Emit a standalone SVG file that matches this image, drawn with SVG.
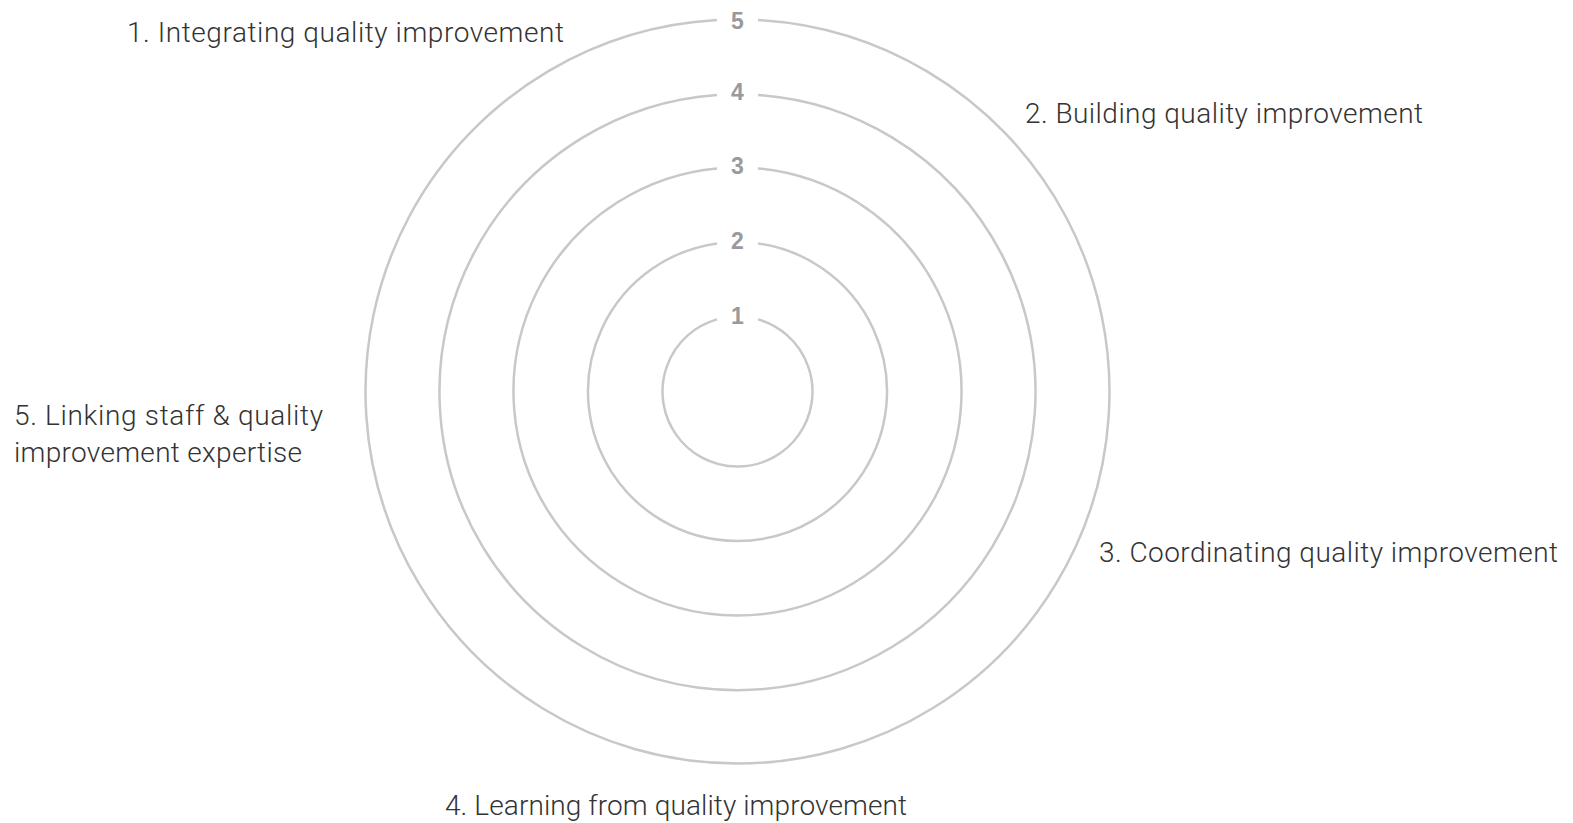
<svg xmlns="http://www.w3.org/2000/svg" width="1573" height="823" viewBox="0 0 1573 823">
<style>
.ring{fill:none;stroke:#c8c8c8;stroke-width:2.5}
.num{font-family:"Liberation Sans",Arial,sans-serif;font-weight:bold;font-size:23px;fill:#9a9a9c;text-anchor:middle}
.lbl{font-family:Roboto,"Liberation Sans",Arial,sans-serif;font-weight:300;font-size:28px;fill:#333333}
</style>
<rect width="1573" height="823" fill="#ffffff"/>
<g id="rings">
<g id="ring1"><path class="ring" d="M717 319.4 A75 75 0 1 0 758 319.4"/><text class="num" x="737.5" y="324">1</text></g>
<g id="ring2"><path class="ring" d="M717 243.4 A149.5 149.5 0 1 0 758 243.4"/><text class="num" x="737.5" y="249">2</text></g>
<g id="ring3"><path class="ring" d="M717 168.4 A224 224 0 1 0 758 168.4"/><text class="num" x="737.5" y="174">3</text></g>
<g id="ring4"><path class="ring" d="M717 94.9 A298 298 0 1 0 758 94.9"/><text class="num" x="737.5" y="100">4</text></g>
<g id="ring5"><path class="ring" d="M717 20.1 A372 372 0 1 0 758 20.1"/><text class="num" x="737.5" y="28.5">5</text></g>
</g>
<g id="labels">
<g id="label1"><text class="lbl" x="127" y="42" textLength="437" lengthAdjust="spacing">1. Integrating quality improvement</text></g>
<g id="label2"><text class="lbl" x="1025" y="123" textLength="398" lengthAdjust="spacing">2. Building quality improvement</text></g>
<g id="label3"><text class="lbl" x="1099" y="562" textLength="459" lengthAdjust="spacing">3. Coordinating quality improvement</text></g>
<g id="label4"><text class="lbl" x="445" y="815" textLength="462" lengthAdjust="spacing">4. Learning from quality improvement</text></g>
<g id="label5"><text class="lbl" x="14" y="425" textLength="309" lengthAdjust="spacing">5. Linking staff &amp; quality</text><text class="lbl" x="14" y="462" textLength="288" lengthAdjust="spacing">improvement expertise</text></g>
</g>
</svg>
